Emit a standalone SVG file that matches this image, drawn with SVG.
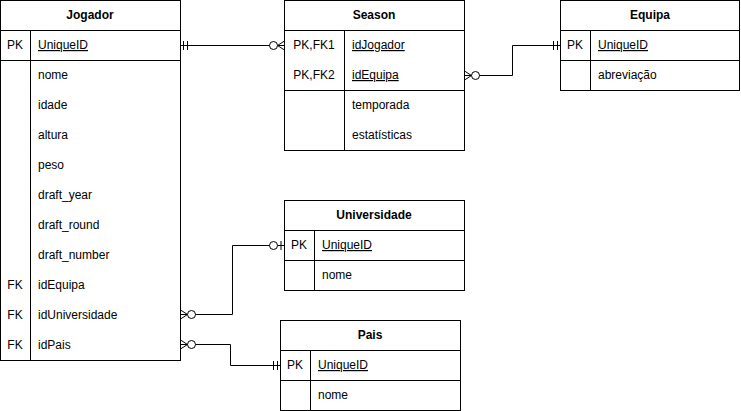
<svg xmlns="http://www.w3.org/2000/svg" width="741" height="411" viewBox="0 0 741 411">
<style>
.box{fill:#fff;stroke:#000;stroke-width:1}
.ln{stroke:#000;stroke-width:1;fill:none}
text{font-family:"Liberation Sans",Arial,sans-serif;font-size:12px;fill:#000}
.h{font-weight:bold;text-anchor:middle}
.k{text-anchor:middle}
.u{text-decoration:underline}
.c{stroke:#000;stroke-width:1;fill:none}
</style>
<defs>
<marker id="many0" markerUnits="userSpaceOnUse" orient="auto-start-reverse" refX="0" refY="0" markerWidth="30" markerHeight="20" overflow="visible">
<path d="M0,-4.5 L-7,0 L0,4.5 M0,0 L-7,0" fill="none" stroke="#000"/>
<circle cx="-11" cy="0" r="4" fill="#fff" stroke="#000"/>
</marker>
<marker id="one1" markerUnits="userSpaceOnUse" orient="auto-start-reverse" refX="0" refY="0" markerWidth="30" markerHeight="20" overflow="visible">
<path d="M-3,-4.5 V4.5 M-7,-4.5 V4.5" fill="none" stroke="#000"/>
</marker>
<marker id="one0" markerUnits="userSpaceOnUse" orient="auto-start-reverse" refX="0" refY="0" markerWidth="30" markerHeight="20" overflow="visible">
<path d="M-3.5,-4.5 V4.5" fill="none" stroke="#000"/>
<circle cx="-11" cy="0" r="4" fill="#fff" stroke="#000"/>
</marker>
</defs>
<rect width="741" height="411" fill="#fff"/>

<g id="Jogador">
<rect class="box" x="0.5" y="0.5" width="180" height="360"/>
<path class="ln" d="M0.5,30.5 H180.5 M0.5,60.5 H180.5 M30.5,30.5 V360.5"/>
<text class="h" x="90" y="19">Jogador</text>
<text class="k" x="15" y="49">PK</text>
<text class="u" x="38" y="49">UniqueID</text>
<text x="38" y="79">nome</text>
<text x="38" y="109">idade</text>
<text x="38" y="139">altura</text>
<text x="38" y="169">peso</text>
<text x="38" y="199">draft_year</text>
<text x="38" y="229">draft_round</text>
<text x="38" y="259">draft_number</text>
<text class="k" x="15" y="289">FK</text>
<text x="38" y="289">idEquipa</text>
<text class="k" x="15" y="319">FK</text>
<text x="38" y="319">idUniversidade</text>
<text class="k" x="15" y="349">FK</text>
<text x="38" y="349">idPais</text>
</g>

<g id="Season">
<rect class="box" x="284.5" y="0.5" width="180" height="150"/>
<path class="ln" d="M284.5,30.5 H464.5 M284.5,90.5 H464.5 M344.5,30.5 V150.5"/>
<text class="h" x="374" y="19">Season</text>
<text class="k" x="314" y="49">PK,FK1</text>
<text class="u" x="352" y="49">idJogador</text>
<text class="k" x="314" y="79">PK,FK2</text>
<text class="u" x="352" y="79">idEquipa</text>
<text x="352" y="109">temporada</text>
<text x="352" y="139">estatísticas</text>
</g>

<g id="Equipa">
<rect class="box" x="560.5" y="0.5" width="179" height="90"/>
<path class="ln" d="M560.5,30.5 H739.5 M560.5,60.5 H739.5 M590.5,30.5 V90.5"/>
<text class="h" x="650" y="19">Equipa</text>
<text class="k" x="575" y="49">PK</text>
<text class="u" x="598" y="49">UniqueID</text>
<text x="598" y="79">abreviação</text>
</g>

<g id="Universidade">
<rect class="box" x="284.5" y="200.5" width="180" height="90"/>
<path class="ln" d="M284.5,230.5 H464.5 M284.5,260.5 H464.5 M314.5,230.5 V290.5"/>
<text class="h" x="374" y="219">Universidade</text>
<text class="k" x="299" y="249">PK</text>
<text class="u" x="322" y="249">UniqueID</text>
<text x="322" y="279">nome</text>
</g>

<g id="Pais">
<rect class="box" x="280.5" y="320.5" width="180" height="90"/>
<path class="ln" d="M280.5,350.5 H460.5 M280.5,380.5 H460.5 M310.5,350.5 V410.5"/>
<text class="h" x="370" y="339">Pais</text>
<text class="k" x="295" y="369">PK</text>
<text class="u" x="318" y="369">UniqueID</text>
<text x="318" y="399">nome</text>
</g>

<g id="connectors">
<path class="c" d="M180.5,45.5 H284.5" marker-start="url(#one1)" marker-end="url(#many0)"/>
<path class="c" d="M464.5,75.5 H512.5 V45.5 H560.5" marker-start="url(#many0)" marker-end="url(#one1)"/>
<path class="c" d="M180.5,314.5 H232.5 V245.5 H284.5" marker-start="url(#many0)" marker-end="url(#one0)"/>
<path class="c" d="M180.5,344.5 H230.5 V365.5 H280.5" marker-start="url(#many0)" marker-end="url(#one1)"/>
</g>
</svg>
